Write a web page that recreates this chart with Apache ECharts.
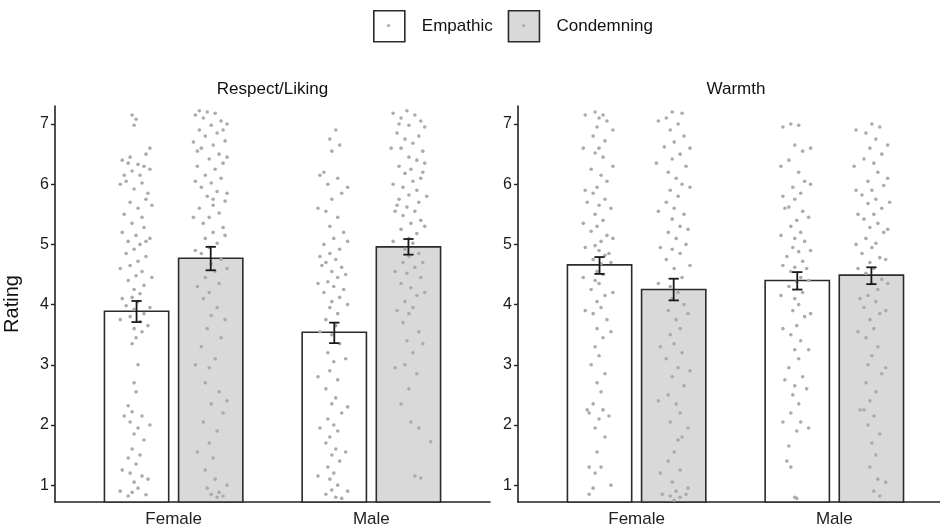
<!DOCTYPE html>
<html><head><meta charset="utf-8">
<script src="https://cdn.jsdelivr.net/npm/echarts@6/dist/echarts.min.js"></script>
<style>html,body{margin:0;padding:0;background:#fff}#c{width:940px;height:529px}</style>
</head><body><div id="c"></div>
<script>
// ---------- data ----------
const panels = ['Respect/Liking', 'Warmth'];
const genders = ['Female', 'Male'];
const conditions = ['Empathic', 'Condemning'];
const yTicks = [1, 2, 3, 4, 5, 6, 7];

// means per gender [Female, Male]
const respectEmpathicMean   = [3.89, 3.54];
const respectCondemningMean = [4.77, 4.96];
const warmthEmpathicMean    = [4.66, 4.40];
const warmthCondemningMean  = [4.25, 4.49];
// error bars [low, high] per gender
const respectEmpathicErr   = [[3.71, 4.06], [3.36, 3.70]];
const respectCondemningErr = [[4.57, 4.96], [4.83, 5.09]];
const warmthEmpathicErr    = [[4.51, 4.79], [4.25, 4.54]];
const warmthCondemningErr  = [[4.07, 4.43], [4.34, 4.62]];

// jittered raw ratings [x, rating]
const respectFemaleEmpathicPts = [[0.79,7.15],[0.81,7.08],[0.80,6.98],[0.86,6.5],[0.78,6.45],[0.77,6.35],[0.82,6.33],[0.85,6.3],[0.79,6.22],[0.83,6.15],[0.76,6.05],[0.84,6.02],[0.80,5.92],[0.87,5.85],[0.86,5.75],[0.78,5.7],[0.82,5.6],[0.75,5.5],[0.84,5.45],[0.79,5.35],[0.85,5.28],[0.81,5.15],[0.77,5.05],[0.83,5.0],[0.80,4.92],[0.76,4.85],[0.86,4.8],[0.82,4.72],[0.78,4.65],[0.84,4.55],[0.81,4.48],[0.77,4.4],[0.85,4.32],[0.80,4.25],[0.83,4.18],[0.79,4.12],[0.82,4.05],[0.76,3.98],[0.80,3.92],[0.85,3.85],[0.78,3.8],[0.83,3.72],[0.80,3.6],[0.84,3.55],[0.81,3.45],[0.79,3.35],[0.82,3.0],[0.80,2.7],[0.81,2.55],[0.77,2.32],[0.79,2.22],[0.84,2.15],[0.78,2.05],[0.82,1.95],[0.80,1.85],[0.85,1.75],[0.79,1.6],[0.83,1.5],[0.77,1.45],[0.81,1.35],[0.78,1.2],[0.84,1.15],[0.80,1.05],[0.82,0.95],[0.79,0.88],[0.86,0.84],[0.77,0.82],
  [0.74,6.4],[0.88,6.25],[0.73,6.0],[0.89,5.65],[0.74,5.2],[0.88,5.1],[0.73,4.6],[0.89,4.45],[0.74,4.1],[0.88,3.95],[0.73,3.75],[0.87,3.65],[0.75,2.15],[0.88,2.0],[0.74,1.25],[0.87,1.1],[0.73,0.9],[0.88,6.6],[0.75,6.15],[0.86,5.05]];
const respectFemaleCondemningPts = [[1.17,7.2],[1.21,7.18],[1.15,7.1],[1.24,7.05],[1.19,6.98],[1.13,6.9],[1.22,6.85],[1.16,6.8],[1.26,6.72],[1.20,6.65],[1.14,6.6],[1.23,6.5],[1.18,6.42],[1.25,6.35],[1.12,6.3],[1.21,6.25],[1.16,6.15],[1.24,6.1],[1.19,6.02],[1.14,5.95],[1.22,5.88],[1.17,5.8],[1.26,5.72],[1.20,5.65],[1.13,5.6],[1.23,5.52],[1.18,5.45],[1.15,5.35],[1.25,5.28],[1.20,5.2],[1.16,5.1],[1.22,5.02],[1.18,4.95],[1.14,4.85],[1.24,4.75],[1.19,4.68],[1.21,4.55],[1.16,4.45],[1.23,4.35],[1.18,4.2],[1.15,4.1],[1.22,3.95],[1.19,3.82],[1.17,3.6],[1.24,3.45],[1.14,3.3],[1.21,3.1],[1.18,2.95],[1.16,2.7],[1.23,2.55],[1.19,2.35],[1.25,2.2],[1.15,2.05],[1.22,1.9],[1.18,1.7],[1.20,1.45],[1.16,1.25],[1.21,1.1],[1.17,0.95],[1.23,0.88],[1.19,0.85],[1.25,0.82],[1.22,0.8],
  [1.11,7.15],[1.27,7.0],[1.10,6.7],[1.27,6.45],[1.11,6.05],[1.27,5.85],[1.10,5.45],[1.26,5.15],[1.11,4.9],[1.27,4.6],[1.12,4.3],[1.26,3.75],[1.11,3.0],[1.27,2.4],[1.12,1.55],[1.27,1.0],[1.13,7.22],[1.25,6.9],[1.12,6.55],[1.20,5.75]];
const respectMaleEmpathicPts = [[1.82,6.9],[1.79,6.75],[1.84,6.65],[1.80,6.55],[1.76,6.2],[1.83,6.1],[1.78,6.0],[1.85,5.85],[1.80,5.75],[1.77,5.55],[1.83,5.45],[1.79,5.3],[1.86,5.2],[1.81,5.1],[1.76,5.0],[1.84,4.92],[1.79,4.85],[1.82,4.75],[1.77,4.7],[1.85,4.62],[1.80,4.55],[1.83,4.45],[1.78,4.38],[1.81,4.3],[1.76,4.2],[1.84,4.12],[1.80,4.05],[1.79,3.95],[1.83,3.85],[1.77,3.75],[1.82,3.65],[1.80,3.5],[1.84,3.35],[1.78,3.2],[1.81,3.05],[1.79,2.9],[1.83,2.75],[1.77,2.6],[1.82,2.45],[1.80,2.35],[1.85,2.2],[1.78,2.1],[1.81,2.0],[1.83,1.9],[1.79,1.8],[1.77,1.7],[1.82,1.6],[1.80,1.5],[1.84,1.4],[1.78,1.3],[1.81,1.2],[1.79,1.1],[1.83,1.0],[1.80,0.92],[1.77,0.85],[1.82,0.8],[1.85,0.78],
  [1.74,6.15],[1.88,5.95],[1.73,5.6],[1.88,5.05],[1.74,4.8],[1.87,4.5],[1.73,4.35],[1.88,4.0],[1.74,3.55],[1.87,3.1],[1.73,2.8],[1.88,2.3],[1.74,1.95],[1.87,1.55],[1.73,1.15],[1.88,0.9],[1.75,4.65],[1.86,4.25]];
const respectMaleCondemningPts = [[2.18,7.22],[2.22,7.15],[2.15,7.1],[2.25,7.05],[2.19,6.98],[2.13,6.85],[2.24,6.8],[2.17,6.75],[2.21,6.68],[2.15,6.6],[2.26,6.55],[2.19,6.45],[2.23,6.4],[2.14,6.3],[2.20,6.25],[2.17,6.18],[2.25,6.1],[2.21,6.05],[2.16,5.95],[2.23,5.9],[2.19,5.82],[2.14,5.75],[2.24,5.7],[2.18,5.62],[2.22,5.55],[2.16,5.48],[2.25,5.4],[2.20,5.35],[2.15,5.25],[2.23,5.18],[2.19,5.1],[2.21,5.02],[2.17,4.92],[2.24,4.85],[2.19,4.8],[2.16,4.7],[2.22,4.62],[2.18,4.52],[2.25,4.45],[2.15,4.35],[2.20,4.28],[2.23,4.15],[2.17,4.05],[2.21,3.95],[2.19,3.85],[2.16,3.7],[2.24,3.55],[2.18,3.4],[2.21,3.2],[2.17,3.0],[2.23,2.85],[2.19,2.6],[2.15,2.35],[2.20,2.05],[2.24,1.95],[2.30,1.72],[2.22,1.15],[2.25,1.12],
  [2.11,7.18],[2.27,6.95],[2.10,6.6],[2.27,6.35],[2.11,6.0],[2.28,5.8],[2.12,5.55],[2.27,5.3],[2.11,5.05],[2.26,4.7],[2.12,4.55],[2.27,4.2],[2.13,3.9],[2.26,3.35],[2.12,2.95],[2.14,7.0],[2.26,6.2],[2.13,5.65]];
const warmthFemaleEmpathicPts = [[0.79,7.2],[0.83,7.15],[0.81,7.1],[0.85,7.05],[0.80,6.95],[0.78,6.8],[0.84,6.72],[0.81,6.6],[0.79,6.52],[0.83,6.45],[0.77,6.25],[0.82,6.15],[0.85,6.05],[0.80,5.95],[0.78,5.85],[0.84,5.75],[0.81,5.65],[0.79,5.5],[0.83,5.4],[0.80,5.3],[0.77,5.22],[0.85,5.15],[0.82,5.05],[0.79,4.98],[0.81,4.9],[0.84,4.82],[0.78,4.75],[0.82,4.68],[0.80,4.55],[0.83,4.5],[0.79,4.4],[0.81,4.35],[0.77,4.25],[0.84,4.15],[0.80,4.05],[0.82,3.95],[0.78,3.85],[0.85,3.75],[0.80,3.6],[0.83,3.45],[0.79,3.3],[0.81,3.15],[0.77,3.0],[0.84,2.85],[0.80,2.7],[0.82,2.55],[0.78,2.35],[0.83,2.25],[0.76,2.2],[0.81,2.1],[0.79,1.95],[0.84,1.8],[0.80,1.55],[0.82,1.3],[0.79,1.2],[0.78,0.95],[0.76,0.85],
  [0.74,7.15],[0.88,6.9],[0.73,6.6],[0.88,6.3],[0.74,5.9],[0.87,5.6],[0.73,5.35],[0.88,5.1],[0.74,4.95],[0.87,4.7],[0.73,4.45],[0.88,4.2],[0.74,3.9],[0.87,3.55],[0.75,2.25],[0.86,2.15],[0.75,5.7],[0.86,4.85],[0.76,1.3],[0.87,1.0]];
const warmthFemaleCondemningPts = [[1.18,7.2],[1.23,7.18],[1.15,7.1],[1.21,7.0],[1.17,6.9],[1.24,6.8],[1.19,6.7],[1.14,6.62],[1.22,6.5],[1.18,6.42],[1.25,6.3],[1.16,6.2],[1.20,6.1],[1.23,6.0],[1.17,5.9],[1.21,5.8],[1.15,5.7],[1.19,5.6],[1.24,5.5],[1.18,5.42],[1.22,5.3],[1.16,5.2],[1.20,5.1],[1.25,5.0],[1.18,4.92],[1.22,4.85],[1.15,4.75],[1.19,4.6],[1.23,4.45],[1.17,4.3],[1.21,4.2],[1.18,4.1],[1.24,4.0],[1.16,3.9],[1.20,3.75],[1.22,3.6],[1.17,3.5],[1.19,3.35],[1.23,3.2],[1.15,3.1],[1.21,2.95],[1.18,2.8],[1.24,2.65],[1.16,2.5],[1.20,2.35],[1.22,2.2],[1.17,2.05],[1.23,1.8],[1.21,1.75],[1.19,1.55],[1.16,1.4],[1.22,1.25],[1.18,1.05],[1.20,0.9],[1.25,0.85],[1.17,0.82],[1.22,0.8],[1.19,0.75],
  [1.11,7.05],[1.27,6.6],[1.10,6.35],[1.27,5.95],[1.11,5.55],[1.26,5.25],[1.12,4.95],[1.27,4.65],[1.11,4.35],[1.26,3.85],[1.12,3.3],[1.27,2.9],[1.11,2.4],[1.26,1.95],[1.12,1.2],[1.26,0.95],[1.13,0.85]];
const warmthMaleEmpathicPts = [[1.78,7.0],[1.82,6.98],[1.80,6.65],[1.84,6.55],[1.77,6.4],[1.82,6.2],[1.85,6.05],[1.79,5.95],[1.83,5.85],[1.80,5.75],[1.77,5.62],[1.84,5.55],[1.81,5.4],[1.78,5.3],[1.83,5.2],[1.80,5.1],[1.85,5.05],[1.79,4.95],[1.82,4.88],[1.76,4.8],[1.84,4.72],[1.80,4.62],[1.78,4.55],[1.83,4.45],[1.81,4.38],[1.77,4.3],[1.84,4.2],[1.80,4.1],[1.82,4.0],[1.79,3.9],[1.85,3.8],[1.81,3.65],[1.78,3.5],[1.83,3.4],[1.80,3.25],[1.82,3.1],[1.77,2.95],[1.84,2.8],[1.80,2.65],[1.79,2.5],[1.82,2.35],[1.78,2.2],[1.83,2.05],[1.81,1.9],[1.77,1.65],[1.76,1.4],[1.78,1.3],[1.80,0.8],[1.81,0.78],
  [1.74,6.95],[1.88,6.6],[1.73,6.3],[1.88,6.0],[1.74,5.8],[1.87,5.45],[1.73,5.15],[1.88,4.9],[1.74,4.65],[1.87,4.4],[1.73,4.15],[1.88,3.85],[1.74,3.6],[1.87,3.25],[1.75,2.75],[1.86,2.6],[1.74,2.05],[1.87,1.95],[1.75,5.6],[1.86,4.6]];
const warmthMaleCondemningPts = [[2.19,7.0],[2.23,6.95],[2.16,6.85],[2.21,6.75],[2.18,6.6],[2.24,6.5],[2.15,6.42],[2.20,6.35],[2.22,6.2],[2.17,6.05],[2.25,5.98],[2.19,5.9],[2.14,5.82],[2.21,5.75],[2.17,5.68],[2.24,5.6],[2.20,5.5],[2.15,5.42],[2.22,5.35],[2.18,5.28],[2.25,5.2],[2.16,5.1],[2.21,5.02],[2.19,4.95],[2.14,4.85],[2.23,4.78],[2.18,4.7],[2.20,4.6],[2.16,4.52],[2.24,4.42],[2.19,4.35],[2.22,4.25],[2.17,4.15],[2.21,4.05],[2.15,3.95],[2.23,3.85],[2.18,3.75],[2.20,3.6],[2.16,3.45],[2.22,3.3],[2.19,3.15],[2.17,3.0],[2.24,2.85],[2.16,2.7],[2.21,2.55],[2.18,2.4],[2.15,2.25],[2.20,2.15],[2.17,2.0],[2.23,1.85],[2.19,1.7],[2.21,1.5],[2.18,1.3],[2.22,1.1],[2.20,0.9],[2.23,0.82],
  [2.11,6.9],[2.27,6.65],[2.10,6.3],[2.27,6.1],[2.11,5.9],[2.28,5.7],[2.12,5.5],[2.27,5.25],[2.11,5.0],[2.26,4.75],[2.12,4.6],[2.27,4.35],[2.13,4.1],[2.26,3.9],[2.12,3.55],[2.26,2.95],[2.13,2.25],[2.26,1.05]];

// ---------- build ----------
const DODGE = 0.1875, BAR_W = 0.325, CAP = 0.026;
const FILL = { Empathic: '#ffffff', Condemning: '#d9d9d9' };
const OUTLINE = '#2b2b2b';
const FONT = 'Liberation Sans, Arial, sans-serif';
const panelData = [
  { means: [respectEmpathicMean, respectCondemningMean], errs: [respectEmpathicErr, respectCondemningErr],
    pts: [[respectFemaleEmpathicPts, respectMaleEmpathicPts], [respectFemaleCondemningPts, respectMaleCondemningPts]] },
  { means: [warmthEmpathicMean, warmthCondemningMean], errs: [warmthEmpathicErr, warmthCondemningErr],
    pts: [[warmthFemaleEmpathicPts, warmthMaleEmpathicPts], [warmthFemaleCondemningPts, warmthMaleCondemningPts]] }
];
function xPos(g, c) { return g + 1 + (c === 0 ? -DODGE : DODGE); }

function barRender(params, api) {
  const x = api.value(0), v = api.value(1);
  const a = api.coord([x - BAR_W / 2, v]);
  const b = api.coord([x + BAR_W / 2, v]);
  const cs = params.coordSys;
  const bottom = cs.y + cs.height;
  return { type: 'rect', shape: { x: a[0], y: a[1], width: b[0] - a[0], height: bottom - a[1] },
    style: { fill: api.visual('color'), stroke: OUTLINE, lineWidth: 1.6 } };
}
function errRender(params, api) {
  const x = api.value(0), lo = api.value(1), hi = api.value(2);
  const pl = api.coord([x, lo]), ph = api.coord([x, hi]);
  const l1 = api.coord([x - CAP, lo]), r1 = api.coord([x + CAP, lo]);
  const l2 = api.coord([x - CAP, hi]), r2 = api.coord([x + CAP, hi]);
  const st = { stroke: '#1a1a1a', lineWidth: 1.8 };
  return { type: 'group', children: [
    { type: 'line', shape: { x1: pl[0], y1: pl[1], x2: ph[0], y2: ph[1] }, style: st },
    { type: 'line', shape: { x1: l1[0], y1: l1[1], x2: r1[0], y2: r1[1] }, style: st },
    { type: 'line', shape: { x1: l2[0], y1: l2[1], x2: r2[0], y2: r2[1] }, style: st }
  ] };
}

const series = [];
panelData.forEach((pd, p) => {
  conditions.forEach((cond, c) => {
    series.push({ type: 'custom', name: cond, xAxisIndex: p, yAxisIndex: p, z: 1,
      color: FILL[cond], itemStyle: { color: FILL[cond], borderColor: OUTLINE, borderWidth: 1.6 },
      renderItem: barRender, silent: true,
      data: genders.map((g, gi) => [xPos(gi, c), pd.means[c][gi]]) });
  });
  conditions.forEach((cond, c) => {
    genders.forEach((g, gi) => {
      series.push({ type: 'scatter', name: 'pts', xAxisIndex: p, yAxisIndex: p, z: 2, silent: true,
        symbolSize: 3.6, itemStyle: { color: '#ababab', opacity: 1 }, data: pd.pts[c][gi] });
    });
  });
  conditions.forEach((cond, c) => {
    series.push({ type: 'custom', name: 'err', xAxisIndex: p, yAxisIndex: p, z: 3, silent: true,
      renderItem: errRender,
      data: genders.map((g, gi) => [xPos(gi, c), pd.errs[c][gi][0], pd.errs[c][gi][1]]) });
  });
});

const axisLineStyle = { color: '#222', width: 1.6 };
function mkX(idx, max) {
  return { type: 'value', gridIndex: idx, min: 0.4, max: max,
    splitLine: { show: false },
    axisLine: { show: true, lineStyle: axisLineStyle },
    axisTick: { show: false },
    axisLabel: { customValues: [1, 2], formatter: v => genders[Math.round(v) - 1] || '',
      color: '#222', fontSize: 17, fontFamily: FONT, margin: 9 } };
}
function mkY(idx, name) {
  return { type: 'value', gridIndex: idx, min: 0.72, max: 7.3,
    name: name, nameLocation: 'middle', nameGap: 33, nameRotate: 90,
    nameTextStyle: { fontSize: 20, color: '#111', fontFamily: FONT },
    splitLine: { show: false },
    axisLine: { show: true, lineStyle: axisLineStyle },
    axisTick: { show: true, customValues: yTicks, length: 4, lineStyle: { color: '#222', width: 1.4 } },
    axisLabel: { customValues: yTicks, color: '#1a1a1a', fontSize: 16, fontFamily: FONT, margin: 6 } };
}

const option = {
  backgroundColor: '#fff',
  animation: false,
  legend: {
    left: 373, top: 10, padding: 0, itemWidth: 31, itemHeight: 31, itemGap: 15, selectedMode: false,
    textStyle: { fontSize: 17, color: '#111', fontFamily: FONT, padding: [0, 0, 0, 12] },
    data: conditions.map(c => ({ name: c, icon: 'rect',
      itemStyle: { color: FILL[c], borderColor: OUTLINE, borderWidth: 1.6 } }))
  },
  grid: [
    { left: 55, top: 106, width: 435, height: 396 },
    { left: 518, top: 106, width: 422, height: 396 }
  ],
  xAxis: [mkX(0, 2.6), mkX(1, 0.4 + 422 / 197.7)],
  yAxis: [mkY(0, 'Rating'), mkY(1, '')],
  graphic: [
    { type: 'text', x: 272.5, y: 89, style: { text: panels[0], font: '17px ' + FONT, fill: '#111', textAlign: 'center', textVerticalAlign: 'middle' } },
    { type: 'text', x: 736, y: 89, style: { text: panels[1], font: '17px ' + FONT, fill: '#111', textAlign: 'center', textVerticalAlign: 'middle' } },
    { type: 'circle', shape: { cx: 388.5, cy: 25.5, r: 1.6 }, style: { fill: '#ababab' }, z: 100 },
    { type: 'circle', shape: { cx: 523.5, cy: 25.5, r: 1.6 }, style: { fill: '#ababab' }, z: 100 }
  ],
  series: series
};
const chart = echarts.init(document.getElementById('c'), null, { renderer: 'canvas' });
chart.setOption(option);
</script></body></html>
